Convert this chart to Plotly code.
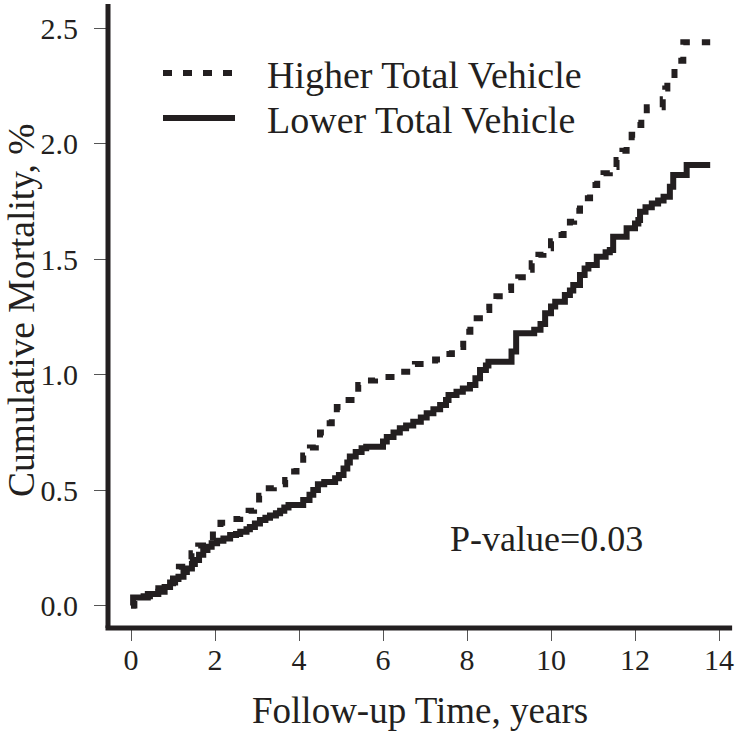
import plotly.graph_objects as go

# ---- data ----
higher_x = [0.0, 0.08, 0.3, 0.45, 0.65, 0.85, 1.0, 1.14, 1.3, 1.44, 1.6, 1.79, 1.95, 2.13,
            2.4, 2.6, 2.8, 2.93, 3.05, 3.19, 3.4, 3.67, 3.8, 3.94, 4.1, 4.26, 4.4, 4.5,
            4.65, 4.78, 4.9, 5.06, 5.25, 5.41, 5.6, 5.81, 6.29, 6.76, 7.24, 7.45, 7.64,
            7.91, 8.08, 8.23, 8.4, 8.53, 8.7, 8.9, 9.05, 9.22, 9.4, 9.54, 9.7, 9.82, 10.0,
            10.17, 10.3, 10.45, 10.55, 10.69, 10.93, 11.1, 11.25, 11.4, 11.56, 11.7, 11.8,
            11.92, 12.04, 12.15, 12.28, 12.66, 12.72, 12.77, 12.94, 13.15, 13.79]
higher_y = [0.0, 0.02, 0.04, 0.053, 0.075, 0.096, 0.13, 0.168, 0.2, 0.226, 0.26, 0.295, 0.33, 0.359,
            0.375, 0.385, 0.41, 0.44, 0.475, 0.508, 0.525, 0.544, 0.58, 0.616, 0.65, 0.685, 0.72, 0.75,
            0.79, 0.825, 0.86, 0.89, 0.925, 0.955, 0.975, 0.99, 1.013, 1.046, 1.066, 1.09, 1.12,
            1.186, 1.215, 1.244, 1.28, 1.316, 1.34, 1.367, 1.395, 1.422, 1.455, 1.483, 1.52, 1.548, 1.578,
            1.605, 1.635, 1.663, 1.71, 1.764, 1.822, 1.85, 1.873, 1.9, 1.93, 1.97, 2.005,
            2.04, 2.082, 2.12, 2.159, 2.193, 2.24, 2.28, 2.36, 2.44, 2.44]

lower_x = [0.0, 0.05, 0.4, 0.65, 0.8, 0.93, 1.05, 1.13, 1.25, 1.33, 1.45, 1.52, 1.62, 1.72, 1.82,
           1.92, 2.05, 2.2, 2.36, 2.5, 2.6, 2.75, 2.83, 2.95, 3.07, 3.2, 3.31, 3.45, 3.55, 3.65,
           3.75, 4.1, 4.25, 4.34, 4.45, 4.6, 4.86, 4.95, 5.06, 5.15, 5.21, 5.35, 5.49, 5.6, 6.0,
           6.09, 6.25, 6.4, 6.55, 6.72, 6.9, 7.04, 7.2, 7.36, 7.5, 7.56, 7.75, 7.9, 8.07, 8.2,
           8.31, 8.45, 8.51, 9.06, 9.17, 9.6, 9.75, 9.86, 10.0, 10.1, 10.33, 10.45, 10.53, 10.69,
           10.8, 10.89, 11.09, 11.3, 11.4, 11.48, 11.8, 12.0, 12.08, 12.12, 12.25, 12.4, 12.55,
           12.68, 12.83, 12.91, 13.23, 13.79]
lower_y = [0.0, 0.035, 0.05, 0.06, 0.08, 0.1, 0.115, 0.125, 0.145, 0.16, 0.18, 0.197, 0.22, 0.24, 0.255,
           0.27, 0.28, 0.29, 0.305, 0.31, 0.32, 0.33, 0.34, 0.355, 0.37, 0.38, 0.39, 0.4, 0.41, 0.425,
           0.435, 0.457, 0.48, 0.5, 0.525, 0.535, 0.551, 0.565, 0.594, 0.62, 0.645, 0.665, 0.681, 0.688, 0.71,
           0.73, 0.75, 0.768, 0.78, 0.796, 0.815, 0.833, 0.85, 0.869, 0.89, 0.912, 0.926, 0.94, 0.955, 0.985,
           1.02, 1.04, 1.056, 1.1, 1.18, 1.195, 1.22, 1.266, 1.295, 1.316, 1.345, 1.365, 1.389, 1.432,
           1.46, 1.475, 1.511, 1.53, 1.54, 1.598, 1.634, 1.655, 1.67, 1.706, 1.725, 1.742, 1.755,
           1.771, 1.814, 1.865, 1.908, 1.908]

x_ticks = [0, 2, 4, 6, 8, 10, 12, 14]
y_ticks = [0.0, 0.5, 1.0, 1.5, 2.0, 2.5]
y_tick_labels = ["0.0", "0.5", "1.0", "1.5", "2.0", "2.5"]

series_names = ["Higher Total Vehicle", "Lower Total Vehicle"]
x_title = "Follow-up Time, years"
y_title = "Cumulative Mortality, %"
p_text = "P-value=0.03"

# ---- style ----
INK = "#231f20"
FONT = "Liberation Serif"
DOT = "9px,12px"
W, H = 736, 733
ML, MR, MT, MB = 108, 2, 4, 105
PW, PH = W - ML - MR, H - MT - MB


def px2paper_x(px):
    return (px - ML) / PW


def px2paper_y(py):
    return (H - MB - py) / PH


fig = go.Figure()
fig.add_trace(go.Scatter(x=higher_x, y=higher_y, mode="lines", name=series_names[0],
                         line=dict(color=INK, width=6, dash=DOT, shape="hv"), showlegend=False))
fig.add_trace(go.Scatter(x=lower_x, y=lower_y, mode="lines", name=series_names[1],
                         line=dict(color=INK, width=6, shape="hv"), showlegend=False))

# axis lines (L-shaped frame)
fig.add_shape(type="line", xref="paper", yref="paper", x0=0, x1=0, y0=0, y1=1,
              line=dict(color=INK, width=5))
fig.add_shape(type="line", xref="paper", yref="paper", x0=-0.004, x1=0.997, y0=0, y1=0,
              line=dict(color=INK, width=5))

# manual legend
fig.add_shape(type="line", xref="paper", yref="paper",
              x0=px2paper_x(163), x1=px2paper_x(234), y0=px2paper_y(73), y1=px2paper_y(73),
              line=dict(color=INK, width=6, dash="9px,11px"))
fig.add_shape(type="line", xref="paper", yref="paper",
              x0=px2paper_x(163), x1=px2paper_x(235), y0=px2paper_y(118), y1=px2paper_y(118),
              line=dict(color=INK, width=6))
for name, py in zip(series_names, [75, 120]):
    fig.add_annotation(text=name, xref="paper", yref="paper", x=px2paper_x(265), y=px2paper_y(py),
                       xanchor="left", yanchor="middle", showarrow=False,
                       font=dict(family=FONT, size=38, color=INK))

fig.add_annotation(text=p_text, xref="paper", yref="paper", x=px2paper_x(448), y=px2paper_y(539),
                   xanchor="left", yanchor="middle", showarrow=False,
                   font=dict(family=FONT, size=36, color=INK))

# axis titles as annotations
fig.add_annotation(text=x_title, xref="paper", yref="paper", x=px2paper_x(420), y=px2paper_y(710),
                   xanchor="center", yanchor="middle", showarrow=False,
                   font=dict(family=FONT, size=37, color=INK))
fig.add_annotation(text=y_title, xref="paper", yref="paper", x=px2paper_x(21), y=px2paper_y(310),
                   xanchor="center", yanchor="middle", showarrow=False, textangle=-90,
                   font=dict(family=FONT, size=37.5, color=INK))

fig.update_layout(
    width=W, height=H,
    margin=dict(l=ML, r=MR, t=MT, b=MB),
    paper_bgcolor="white", plot_bgcolor="white",
    font=dict(family=FONT, color=INK),
    xaxis=dict(range=[-0.548, 14.357], tickmode="array", tickvals=x_ticks,
               ticktext=[str(v) for v in x_ticks],
               ticks="outside", ticklen=12, tickwidth=1, tickcolor="#555555",
               ticklabelstandoff=-7,
               showgrid=False, zeroline=False, showline=False,
               tickfont=dict(family=FONT, size=30, color=INK)),
    yaxis=dict(range=[-0.0975, 2.606], tickmode="array", tickvals=y_ticks, ticktext=y_tick_labels,
               ticks="outside", ticklen=13, tickwidth=1, tickcolor="#555555",
               ticklabelstandoff=10,
               showgrid=False, zeroline=False, showline=False,
               tickfont=dict(family=FONT, size=30, color=INK)),
)

fig.write_html("out.html", config={"displayModeBar": False},
               post_script="document.body.style.margin='0px';document.body.style.overflow='hidden';")
